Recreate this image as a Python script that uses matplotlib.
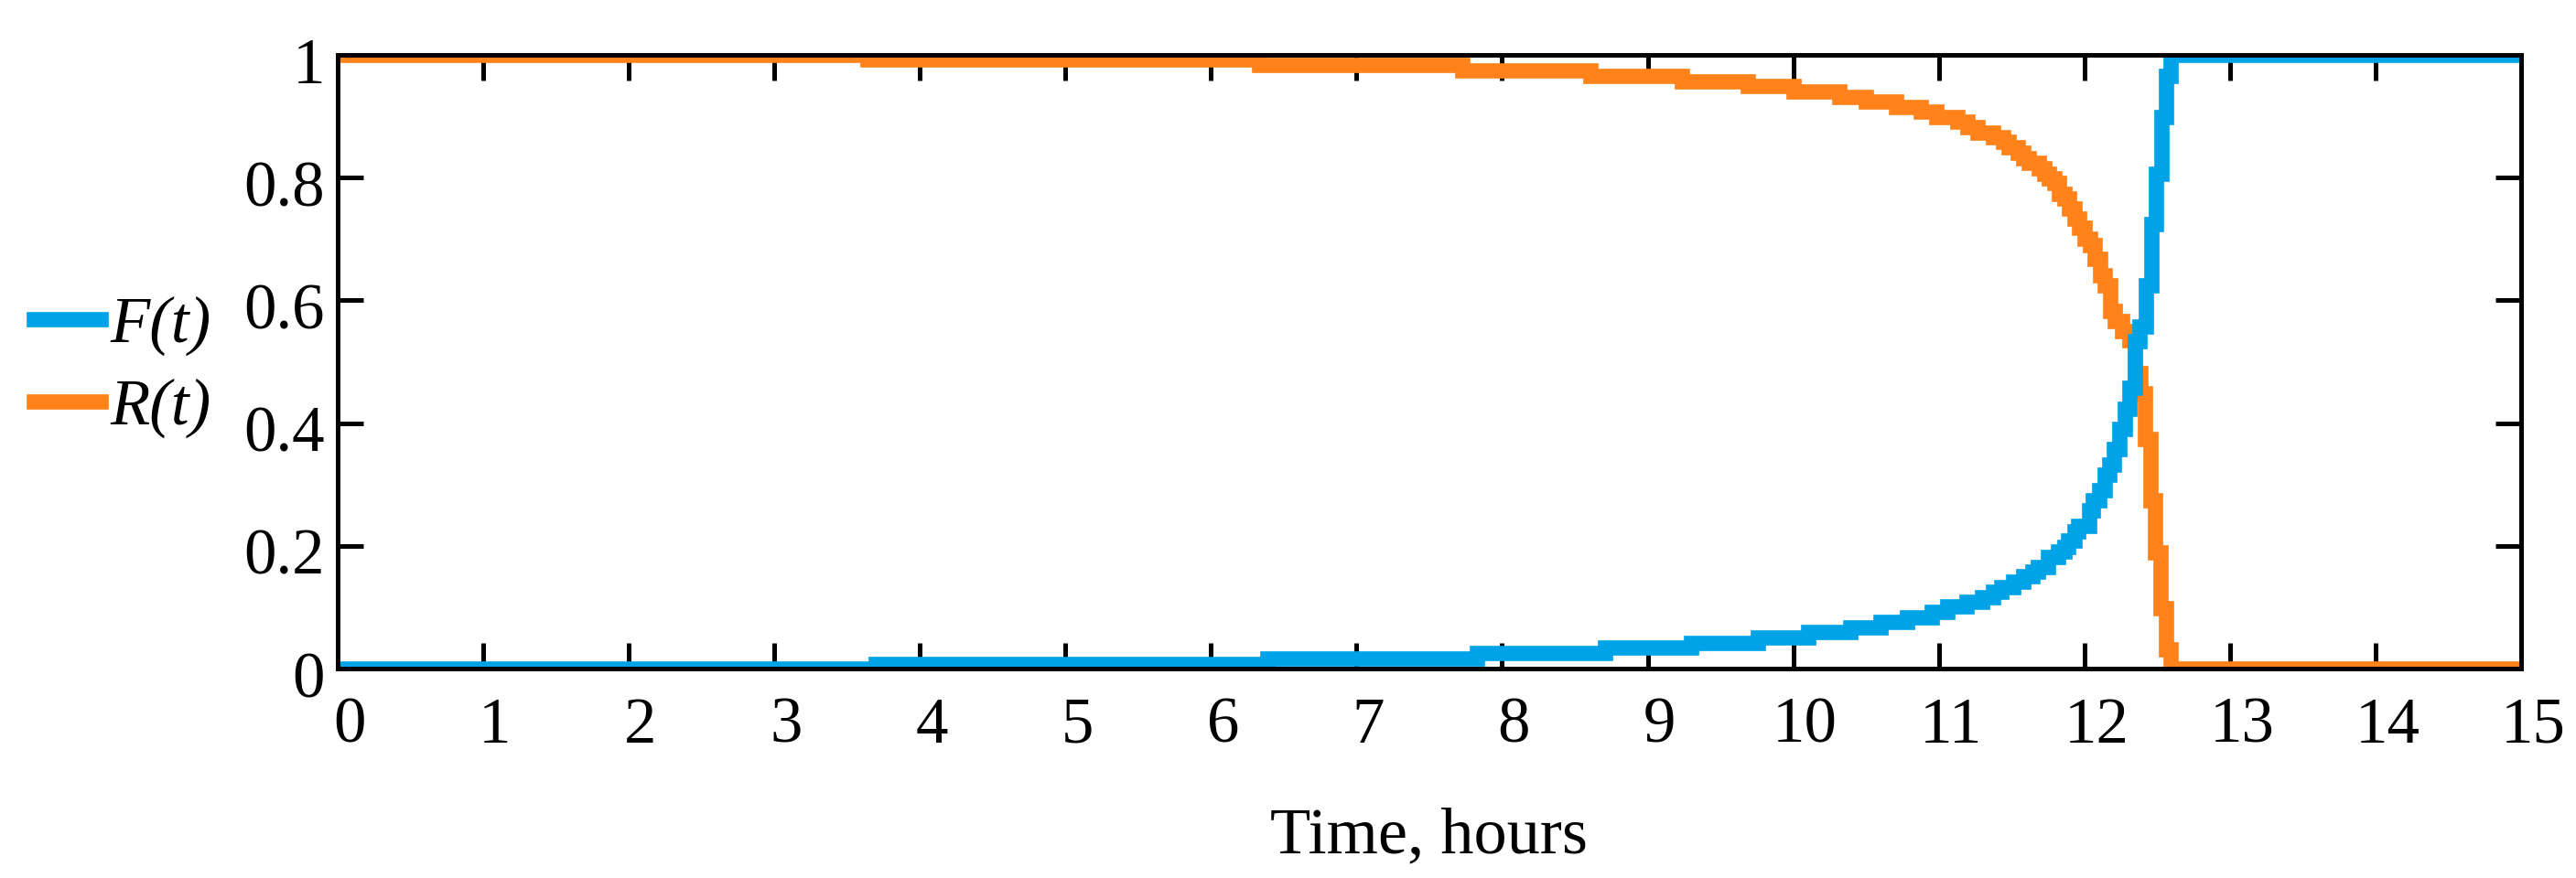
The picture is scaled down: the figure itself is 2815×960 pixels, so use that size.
import matplotlib
matplotlib.use("Agg")
import matplotlib.pyplot as plt
import matplotlib.transforms as mtransforms

# Step data (time in hours, probability)
F_t = [0, 3.70, 6.39, 7.83, 8.71, 9.30, 9.76, 10.10, 10.39, 10.60,
       10.78, 10.95, 11.06, 11.19, 11.30, 11.37, 11.43, 11.51, 11.58, 11.64,
       11.68, 11.75, 11.82, 11.86, 11.89, 11.93, 11.96, 12.03, 12.06, 12.10,
       12.14, 12.17, 12.20, 12.24, 12.28, 12.31, 12.35, 12.38, 12.42, 12.46,
       12.49, 12.53, 12.56, 12.59, 15]
F_v = [0, 0.008, 0.017, 0.025, 0.034, 0.042, 0.050, 0.059, 0.067, 0.076,
       0.084, 0.092, 0.101, 0.109, 0.116, 0.125, 0.133, 0.141, 0.150, 0.158,
       0.166, 0.182, 0.191, 0.199, 0.208, 0.224, 0.233, 0.258, 0.274, 0.291,
       0.316, 0.332, 0.357, 0.391, 0.424, 0.458, 0.533, 0.558, 0.625, 0.725,
       0.807, 0.899, 0.966, 1.0, 1.0]

R_t = [0, 3.64, 6.33, 7.73, 8.61, 9.235, 9.689, 10.004, 10.318, 10.496,
       10.706, 10.878, 10.985, 11.125, 11.199, 11.268, 11.373, 11.444, 11.478, 11.545,
       11.582, 11.618, 11.687, 11.723, 11.758, 11.792, 11.827, 11.863, 11.897, 11.932,
       11.964, 12.0, 12.037, 12.072, 12.106, 12.141, 12.177, 12.21, 12.26, 12.31,
       12.35, 12.385, 12.416, 12.454, 12.485, 12.523, 12.559, 12.592, 15]
R_v = [1.0, 0.992, 0.983, 0.975, 0.966, 0.957, 0.949, 0.940, 0.932, 0.924,
       0.915, 0.907, 0.898, 0.891, 0.882, 0.874, 0.866, 0.858, 0.849, 0.840,
       0.832, 0.824, 0.815, 0.807, 0.799, 0.791, 0.774, 0.766, 0.750, 0.733,
       0.718, 0.700, 0.690, 0.667, 0.641, 0.625, 0.583, 0.566, 0.550, 0.535,
       0.482, 0.449, 0.374, 0.274, 0.190, 0.098, 0.031, 0.0, 0.0]

x_ticks = list(range(0, 16))
y_ticks = [0, 0.2, 0.4, 0.6, 0.8, 1]
y_ticklabels = ["0", "0.2", "0.4", "0.6", "0.8", "1"]

blue = "#00a3e8"
orange = "#ff831a"
serif = "Liberation Serif"

fig = plt.figure(figsize=(28.15, 9.6), dpi=100)
ax = fig.add_axes([0.131, 0.2385, 0.9787 - 0.131, 0.9375 - 0.2385])

ax.step(R_t, R_v, where="post", color=orange, lw=12, label="R(t)",
        solid_joinstyle="miter", zorder=2)
ax.step(F_t, F_v, where="post", color=blue, lw=12, label="F(t)",
        solid_joinstyle="miter", zorder=3)

ax.set_xlim(0, 15)
ax.set_ylim(0, 1)
ax.set_xticks(x_ticks)
ax.set_xticklabels([str(v) for v in x_ticks])
ax.set_yticks(y_ticks)
ax.set_yticklabels(y_ticklabels)

for s in ax.spines.values():
    s.set_linewidth(3.6)
    s.set_zorder(5)

ax.tick_params(direction="in", length=20, width=3.6, top=True, right=True,
               labelsize=51, colors="black")
ax.tick_params(axis="x", pad=22)
ax.tick_params(axis="y", pad=10)
for lab in ax.get_xticklabels() + ax.get_yticklabels():
    lab.set_fontfamily(serif)

# small offsets seen in the original tick labels
dx = mtransforms.ScaledTranslation(13 / 100, 0, fig.dpi_scale_trans)
for lab in ax.get_xticklabels():
    lab.set_transform(lab.get_transform() + dx)
dy = mtransforms.ScaledTranslation(0, -6 / 100, fig.dpi_scale_trans)
for lab in ax.get_yticklabels():
    lab.set_transform(lab.get_transform() + dy)

ax.set_xlabel("Time, hours", fontsize=52, fontfamily=serif, labelpad=40)

handles, labels = ax.get_legend_handles_labels()
fig.legend(handles[::-1], labels[::-1], loc="center left",
           bbox_to_anchor=(0.0131, 0.582), frameon=False, borderpad=0,
           borderaxespad=0, handlelength=1.03, handletextpad=0.15,
           labelspacing=0.35, prop={"family": serif, "style": "italic", "size": 51})

fig.savefig("out.png", dpi=100)
